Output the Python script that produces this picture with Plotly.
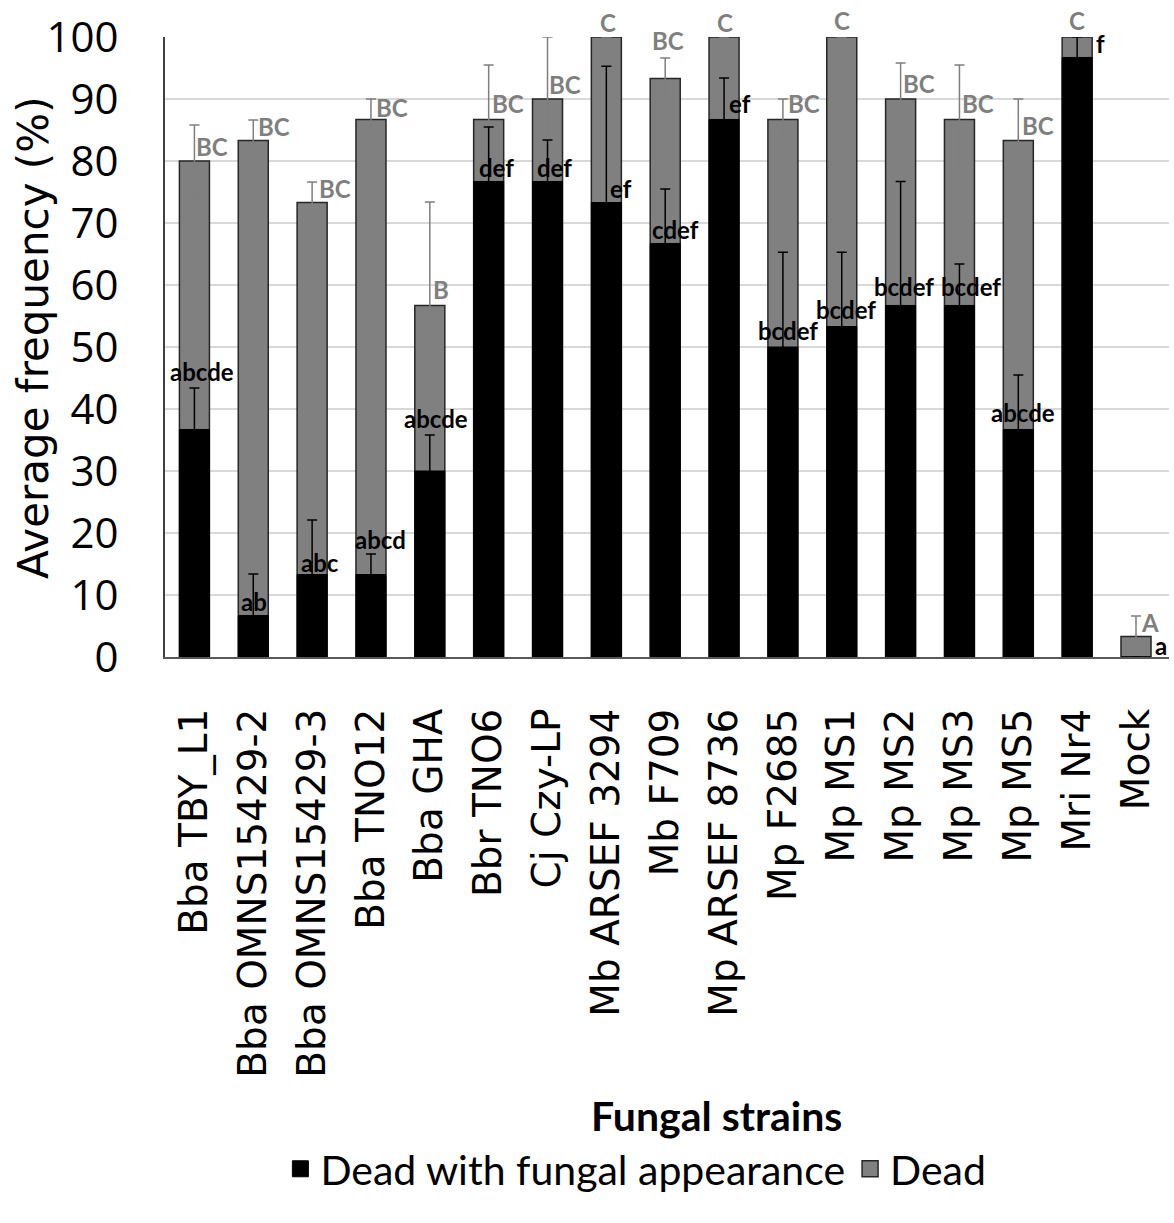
import plotly.graph_objects as go

# Fungal strains tested
strains = [
    "Bba TBY_L1", "Bba OMNS15429-2", "Bba OMNS15429-3", "Bba TNO12", "Bba GHA",
    "Bbr TNO6", "Cj Czy-LP", "Mb ARSEF 3294", "Mb F709", "Mp ARSEF 8736",
    "Mp F2685", "Mp MS1", "Mp MS2", "Mp MS3", "Mp MS5", "Mri Nr4", "Mock",
]

# Total dead (%) and its standard error
dead = [80.0, 83.3, 73.3, 86.7, 56.7, 86.7, 90.0, 100.0, 93.3, 100.0,
        86.7, 100.0, 90.0, 86.7, 83.3, 100.0, 3.3]
dead_err = [5.8, 3.3, 3.3, 3.3, 16.7, 8.8, 10.0, 0.0, 3.3, 0.0,
            3.3, 0.0, 5.8, 8.8, 6.7, 0.0, 3.3]

# Dead with fungal appearance (%) and its standard error
fungal = [36.7, 6.7, 13.3, 13.3, 30.0, 76.7, 76.7, 73.3, 66.7, 86.7,
          50.0, 53.3, 56.7, 56.7, 36.7, 96.7, 0.0]
fungal_err = [6.7, 6.7, 8.8, 3.3, 5.8, 8.8, 6.7, 22.0, 8.8, 6.7,
              15.3, 12.0, 20.0, 6.7, 8.8, 3.3, 0.0]

# Significance groups
dead_groups = ["BC", "BC", "BC", "BC", "B", "BC", "BC", "C", "BC", "C",
               "BC", "C", "BC", "BC", "BC", "C", "A"]
fungal_groups = ["abcde", "ab", "abc", "abcd", "abcde", "def", "def", "ef", "cdef", "ef",
                 "bcdef", "bcdef", "bcdef", "bcdef", "abcde", "f", "a"]

# Placement of the group letters (height in % units, horizontal shift in px)
dead_label_y = [82.4, 85.6, 75.6, 88.7, 59.2, 89.3, 92.4, 102.3, 99.4, 102.3,
                89.3, 102.6, 92.5, 89.3, 85.8, 102.6, 5.6]
dead_label_dx = [18, 21, 23, 21, 11, 19, 17, 2, 3, 1, 21, 0, 18, 19, 20, 0, 14]
fungal_label_y = [46.0, 8.9, 15.3, 19.0, 38.5, 79.0, 79.0, 75.6, 69.0, 89.2,
                  52.7, 56.0, 59.7, 59.7, 39.5, 99.0, 1.9]
fungal_label_dx = [8, 1, 8, 10, 6, 8, 7, 15, 10, 16, 5, 4, 3, 12, 5, 23, 25]

Y_MAX = 100.0
GREY = "#808080"
LABEL_GREY = "#7f7f7f"
OUTLINE = "#262626"

fig = go.Figure()

fig.add_trace(go.Bar(
    name="Dead",
    x=strains, y=dead,
    marker=dict(color=GREY, line=dict(color=OUTLINE, width=1.5)),
    error_y=dict(type="data", array=dead_err, visible=True,
                 color=LABEL_GREY, thickness=1.5, width=5),
    showlegend=False,
))

fig.add_trace(go.Bar(
    name="Dead with fungal appearance",
    x=strains, y=fungal,
    marker=dict(color="#000000", line=dict(color="#000000", width=1)),
    error_y=dict(type="data", array=fungal_err, visible=True,
                 color="#000000", thickness=1.5, width=5),
    showlegend=False,
))

# Legend entries with large square keys
fig.add_trace(go.Scatter(
    name="Dead with fungal appearance", x=[None], y=[None], mode="markers",
    marker=dict(symbol="square", size=26, color="#000000",
                line=dict(color="#000000", width=1)),
    legendrank=1, hoverinfo="skip",
))
fig.add_trace(go.Scatter(
    name="Dead", x=[None], y=[None], mode="markers",
    marker=dict(symbol="square", size=26, color=GREY,
                line=dict(color=OUTLINE, width=1.5)),
    legendrank=2, hoverinfo="skip",
))

letter_font = dict(family="Lato", size=24, weight="bold")

for s, g, yy, dx in zip(strains, dead_groups, dead_label_y, dead_label_dx):
    fig.add_annotation(x=s, yref="y domain", y=yy / Y_MAX, text=g, showarrow=False,
                       xshift=dx, font=dict(letter_font, color=LABEL_GREY),
                       xanchor="center", yanchor="middle")

for s, g, yy, dx in zip(strains, fungal_groups, fungal_label_y, fungal_label_dx):
    fig.add_annotation(x=s, yref="y domain", y=yy / Y_MAX, text=g, showarrow=False,
                       xshift=dx, font=dict(letter_font, color="#000000"),
                       xanchor="center", yanchor="middle")

# Axis titles
fig.add_annotation(xref="paper", yref="paper", x=-0.1316, y=0.516,
                   text="Average frequency (%)", textangle=-90, showarrow=False,
                   font=dict(family="DejaVu Sans", size=42, color="#000000"),
                   xanchor="center", yanchor="middle")
fig.add_annotation(xref="paper", yref="paper", x=0.549, y=-0.739,
                   text="<b>Fungal strains</b>", showarrow=False,
                   font=dict(family="Lato", size=41, color="#000000"),
                   xanchor="center", yanchor="middle")

fig.update_layout(
    width=1174, height=1223,
    margin=dict(l=165, r=5, t=37, b=566),
    barmode="overlay",
    bargap=0.49,
    plot_bgcolor="#ffffff",
    paper_bgcolor="#ffffff",
    showlegend=True,
    legend=dict(orientation="h", x=0.469, y=-0.826, xanchor="center", yanchor="middle",
                font=dict(family="Lato", size=41, color="#000000"),
                itemwidth=30, itemsizing="trace", tracegroupgap=0,
                bgcolor="rgba(0,0,0,0)"),
)

fig.update_yaxes(
    range=[0, Y_MAX], dtick=10,
    showgrid=True, gridcolor="#d9d9d9", gridwidth=2,
    showline=True, linecolor="#404040", linewidth=2,
    ticks="", ticklabelstandoff=36,
    tickfont=dict(family="Open Sans", size=42, color="#000000"),
    zeroline=False,
)

fig.update_xaxes(
    showline=True, linecolor="#595959", linewidth=2,
    tickangle=-90, ticks="", ticklabelstandoff=34,
    tickfont=dict(family="DejaVu Sans", size=39, color="#000000"),
)

fig.write_html("out.html")
